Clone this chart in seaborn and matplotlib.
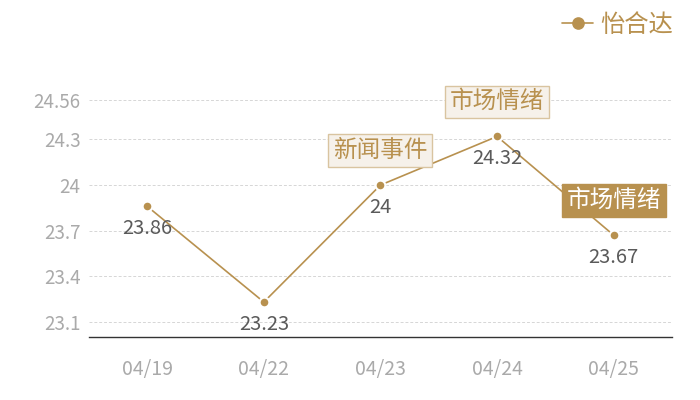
import pandas as pd
import matplotlib.pyplot as plt
import seaborn as sns

# chart data
dates = ["04/19", "04/22", "04/23", "04/24", "04/25"]
prices = [23.86, 23.23, 24.00, 24.32, 23.67]
y_ticks = [23.1, 23.4, 23.7, 24.0, 24.3, 24.56]
series_name = "怡合达"

# event tags: (date index, text, filled)
events = [(2, "新闻事件", False), (3, "市场情绪", False), (4, "市场情绪", True)]

gold = "#b8914f"

sns.set_theme(style="white")
plt.rcParams["font.family"] = ["Noto Sans CJK SC", "DejaVu Sans"]

df = pd.DataFrame({"date": dates, "price": prices})

fig = plt.figure(figsize=(7, 4), dpi=100)
ax = fig.add_axes([0.127, 0.1575, 0.833, 0.5925])

sns.lineplot(data=df, x="date", y="price", ax=ax, color=gold, linewidth=1.2,
             marker="o", markersize=7, markeredgecolor="white", markeredgewidth=1.5,
             label=series_name, sort=False)

ax.set_xlim(-0.5, len(dates) - 0.5)
ax.set_ylim(23.0, 24.56)
ax.set_yticks(y_ticks)
ax.set_yticklabels([f"{v:g}" for v in y_ticks])
ax.set_xlabel("")
ax.set_ylabel("")

ax.yaxis.grid(True, linestyle=(0, (3, 2)), color="#d6d6d6", linewidth=0.7)
ax.set_axisbelow(True)
for side in ["top", "right", "left"]:
    ax.spines[side].set_visible(False)
ax.spines["bottom"].set_color("#333333")
ax.spines["bottom"].set_linewidth(1.0)
ax.tick_params(axis="x", length=0, pad=16, labelsize=14, labelcolor="#aaaaaa")
ax.tick_params(axis="y", length=0, pad=6, labelsize=13.5, labelcolor="#aaaaaa")

# value labels below each point
for i, v in enumerate(prices):
    ax.annotate(f"{v:g}", (i, v), xytext=(0, -16), textcoords="offset points",
                ha="center", va="center", fontsize=14.5, color="#5a5a5a")

# event tags above points
for i, text, filled in events:
    if filled:
        box = dict(boxstyle="square,pad=0.2", fc=gold, ec=gold, lw=1)
        tc = "white"
    else:
        box = dict(boxstyle="square,pad=0.2", fc="#f6f1ea", ec="#d9c4a0", lw=1)
        tc = gold
    ax.annotate(text, (i, prices[i]), xytext=(0, 25), textcoords="offset points",
                ha="center", va="center", fontsize=17, color=tc, bbox=box)

leg = ax.legend(loc="upper right", bbox_to_anchor=(0.976, 0.995),
                bbox_transform=fig.transFigure, frameon=False, fontsize=17.5,
                handlelength=1.3, handletextpad=0.3, borderaxespad=0, markerscale=1.3)
for t in leg.get_texts():
    t.set_color(gold)
for h in leg.legend_handles:
    h.set_markeredgewidth(0)

fig.savefig("out.png", dpi=100)
